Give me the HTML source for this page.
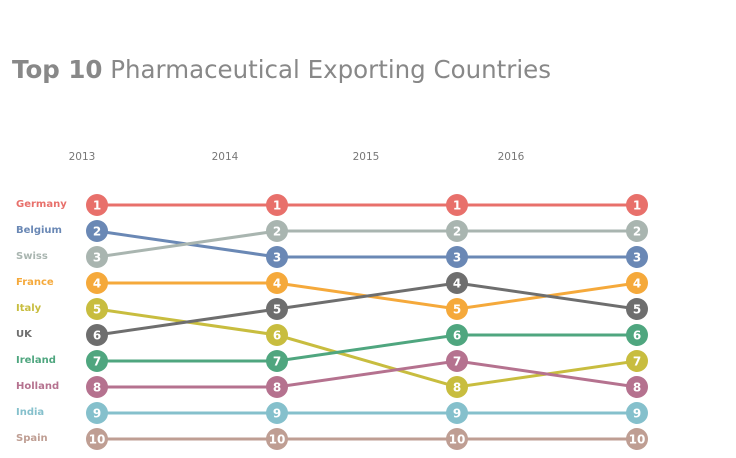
<!DOCTYPE html>
<html><head><meta charset="utf-8"><style>
body{margin:0;background:#fff;width:736px;height:454px;overflow:hidden;font-family:"DejaVu Sans","Liberation Sans",sans-serif}
</style></head><body>
<svg width="736" height="454">
<text x="12" y="78" font-size="24.5" fill="#888"><tspan font-weight="bold">Top 10</tspan> Pharmaceutical Exporting Countries</text>
<g id="years"></g><g id="lines"></g><g id="dots"></g><g id="labels"></g>
</svg>
<script>
const years=["2013","2014","2015","2016"];
const countries=["Germany","Belgium","Swiss","France","Italy","UK","Ireland","Holland","India","Spain"];
const colors=["#e8706b","#6a88b5","#a9b5b0","#f5a93b","#c8bd3f","#6e6e6e","#4fa67f","#b5728f","#85c0cc","#bf9e93"];
const ranks=[[1,1,1,1],[2,3,3,3],[3,2,2,2],[4,4,5,4],[5,6,8,7],[6,5,4,5],[7,7,6,6],[8,8,7,8],[9,9,9,9],[10,10,10,10]];
const yearLabelX=[82,225,366,511];
const ns="http://www.w3.org/2000/svg";
const xPos=i=>97+i*180;
const yPos=r=>205+(r-1)*26;
function mk(t,a,p){const e=document.createElementNS(ns,t);for(const k in a)e.setAttribute(k,a[k]);p.appendChild(e);return e;}
const Y=document.getElementById('years'),L=document.getElementById('lines'),D=document.getElementById('dots'),B=document.getElementById('labels');
years.forEach((y,i)=>{const t=mk('text',{x:yearLabelX[i],y:160,'font-size':10.5,fill:'#777','text-anchor':'middle'},Y);t.textContent=y;

});
countries.forEach((c,k)=>{
const t=mk('text',{x:16,y:yPos(ranks[k][0])+2,'font-size':10,'font-weight':'bold',fill:colors[k]},B);t.textContent=c;


const pts=ranks[k].map((r,i)=>xPos(i)+','+yPos(r)).join(' ');
const pl=mk('polyline',{points:pts,fill:'none',stroke:colors[k],'stroke-width':3},L);


ranks[k].forEach((r,i)=>{
const g=mk('g',{},D);


mk('circle',{cx:xPos(i),cy:yPos(r),r:11,fill:colors[k]},g);
const tx=mk('text',{x:xPos(i),y:yPos(r)+4.5,'font-size':12,'font-weight':'bold',fill:'#fff','text-anchor':'middle'},g);tx.textContent=r;
});
});
</script>
</body></html>
